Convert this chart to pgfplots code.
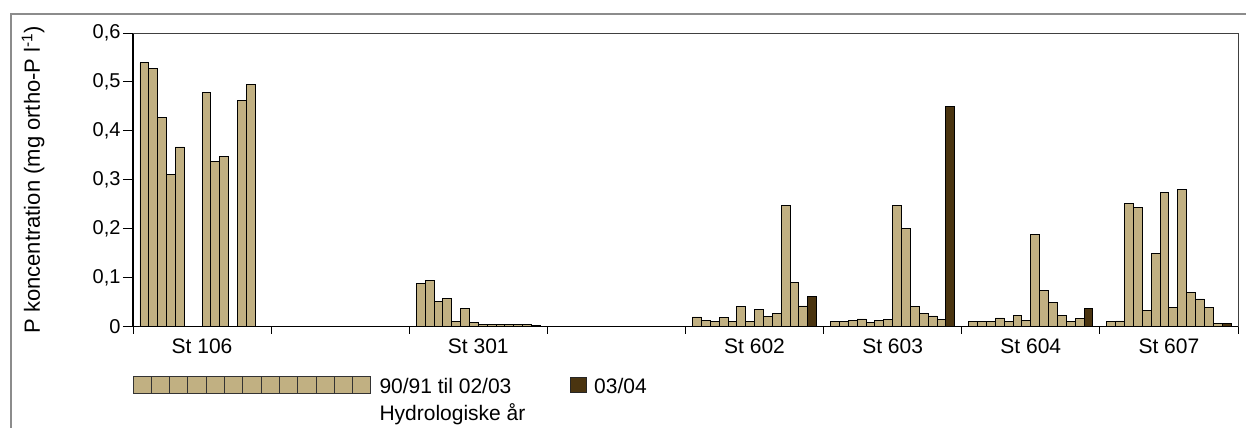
\documentclass[border=0pt]{standalone}
\usepackage{pgfplots}
\pgfplotsset{compat=1.18}
\usepackage{pgfplotstable}
\usepackage{fontspec}
\setmainfont{Liberation Sans}
\definecolor{tanbar}{RGB}{193,176,130}
\definecolor{dbrown}{RGB}{74,52,16}
\newcommand\lf{\fontsize{21bp}{25bp}\selectfont}
\newcommand\yf{\fontsize{20bp}{23bp}\selectfont}
\newcommand\ylf{\fontsize{22bp}{26bp}\selectfont}

\pgfplotstableread{
g s1 s2 s3 s4 s5 s6 s7 s8 s9 s10 s11 s12 s13 s14
0 0.539 0.527 0.428 0.311 0.367 nan nan 0.479 0.338 0.347 nan 0.463 0.494 nan
2 0.0885 0.095 0.051 0.057 0.010 0.036 0.008 0.005 0.0045 0.0035 0.0045 0.0035 0.0045 0.003
4 0.0195 0.0126 0.0099 0.0188 0.0099 0.0406 0.0099 0.0352 0.0209 0.0263 0.2475 0.0905 0.042 0.061
5 0.0099 0.0099 0.0126 0.0154 0.0085 0.0126 0.014 0.248 0.1997 0.0406 0.0263 0.0215 0.0147 0.449
6 0.0099 0.0099 0.0099 0.0174 0.0099 0.0222 0.012 0.1874 0.074 0.0495 0.0222 0.0099 0.0167 0.0372
7 0.0099 0.0113 0.2523 0.2434 0.033 0.15 0.2748 0.0386 0.2795 0.070 0.0563 0.0392 0.0058 0.0058
}\datatable

\begin{document}
\begin{tikzpicture}
\path[use as bounding box] (0,0) rectangle (1246bp,-428bp);
\draw[black!45, line width=1.5bp] (11bp,-428bp) -- (11bp,-14bp) -- (1246bp,-14bp);
\begin{axis}[
  at={(133bp,-326.5bp)}, anchor=south west,
  width=1105bp, height=293.5bp, scale only axis,
  xmin=-0.5, xmax=7.5, ymin=0, ymax=0.6,
  ybar=0pt, bar width=8.87bp,
  axis x line*=bottom, axis y line*=left,
  axis line style={-, black, line width=1.2bp},
  tick align=outside,
  xtick={0,2,4,5,6,7},
  xticklabels={St 106,St 301,St 602,St 603,St 604,St 607},
  minor xtick={-0.5,0.5,1.5,2.5,3.5,4.5,5.5,6.5,7.5},
  every major x tick/.append style={draw=none},
  minor tick length=7bp,
  major tick length=10bp,
  every tick/.append style={black, line width=1bp},
  ytick={0,0.1,0.2,0.3,0.4,0.5,0.6},
  yticklabel style={font=\yf, xshift=1bp, /pgf/number format/.cd, use comma, fixed, precision=1, assume math mode=true},
  xticklabel style={font=\lf, yshift=1bp},
  ylabel={P koncentration (mg ortho-P l\textsuperscript{-1})},
  every axis y label/.style={at={(axis description cs:-0.0905,0.5)}, rotate=90, anchor=center, font=\ylf},
  clip=false,
]
\pgfplotsinvokeforeach{1,...,13}{
  \addplot[fill=tanbar, draw=black, line width=0.9bp] table[x=g,y=s#1]{\datatable};
}
\addplot[fill=dbrown, draw=black, line width=0.9bp] table[x=g,y=s14]{\datatable};
\draw[black!75, line width=1bp] (rel axis cs:0,1) -- (rel axis cs:1,1) -- (rel axis cs:1,0);
\end{axis}
% legend
\foreach \i in {0,...,12}{
  \filldraw[fill=tanbar, draw=black!80, line width=1bp] ({133bp+\i*18.3bp},-376.7bp) rectangle ++(18.3bp,-16.6bp);
}
\filldraw[fill=dbrown, draw=black!85, line width=1bp] (570bp,-377.7bp) rectangle (586.7bp,-392.7bp);
\node[anchor=base west, inner sep=0, font=\lf] at (379.3bp,-393.3bp) {90/91 til 02/03};
\node[anchor=base west, inner sep=0, font=\lf] at (379.3bp,-420bp) {Hydrologiske år};
\node[anchor=base west, inner sep=0, font=\lf] at (594bp,-393.3bp) {03/04};
\end{tikzpicture}
\end{document}
